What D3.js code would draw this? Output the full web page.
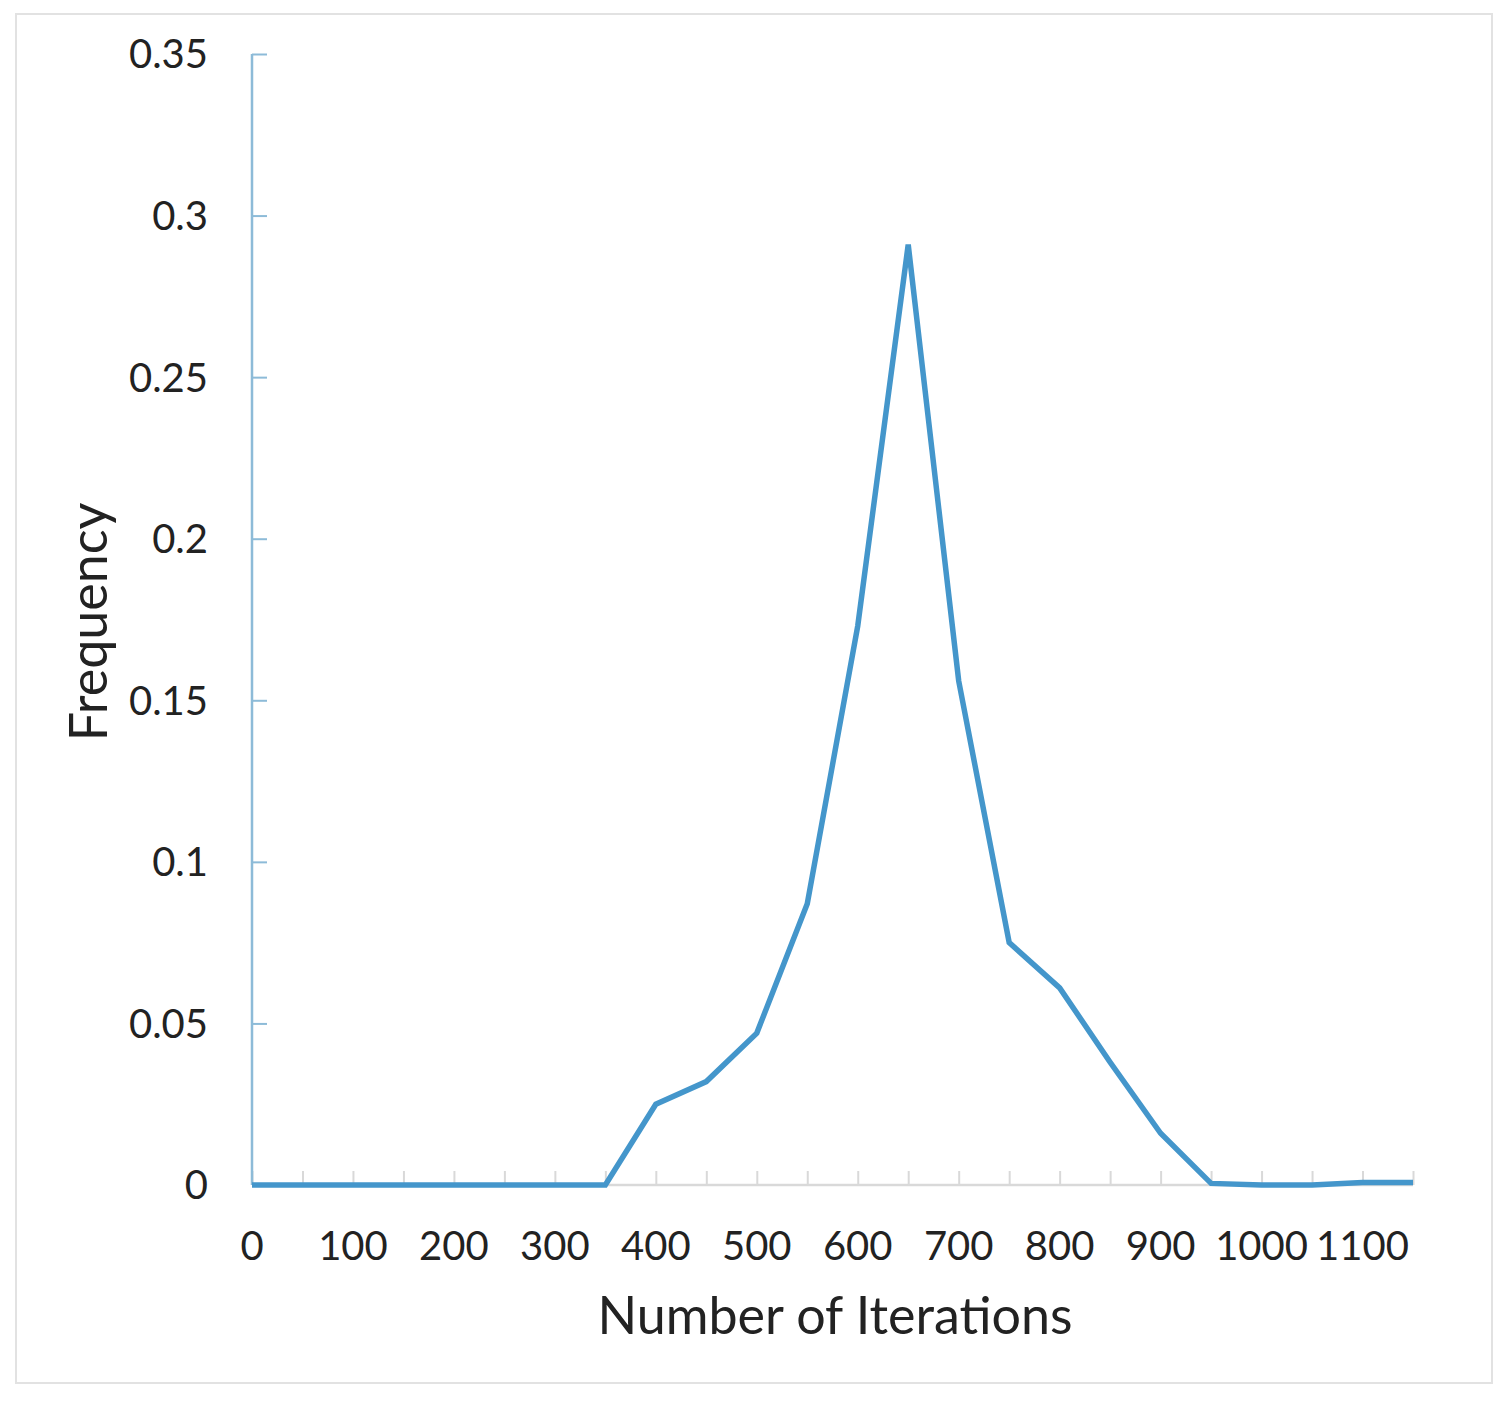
<!DOCTYPE html>
<html>
<head>
<meta charset="utf-8">
<script src="https://cdn.jsdelivr.net/npm/d3@7"></script>
<style>
  html, body { margin: 0; padding: 0; background: #fff; }
  svg text { font-family: Lato, "Open Sans", sans-serif; fill: #222; }
</style>
</head>
<body>
<svg id="chart" width="1510" height="1405"></svg>
<script>
// Data
const iterations = [0, 50, 100, 150, 200, 250, 300, 350, 400, 450, 500, 550, 600, 650, 700, 750, 800, 850, 900, 950, 1000, 1050, 1100, 1150];
const frequency  = [0, 0, 0, 0, 0, 0, 0, 0, 0.025, 0.032, 0.047, 0.087, 0.173, 0.291, 0.156, 0.075, 0.061, 0.038, 0.016, 0.0005, 0, 0, 0.0008, 0.0008];
const xTickLabels = [0, 100, 200, 300, 400, 500, 600, 700, 800, 900, 1000, 1100];
const xMinorTicks = [0, 50, 100, 150, 200, 250, 300, 350, 400, 450, 500, 550, 600, 650, 700, 750, 800, 850, 900, 950, 1000, 1050, 1100, 1150];
const yTickValues = [0, 0.05, 0.1, 0.15, 0.2, 0.25, 0.3, 0.35];
const xTitle = "Number of Iterations";
const yTitle = "Frequency";

const svg = d3.select("#chart");

// frame
svg.append("rect")
  .attr("x", 16).attr("y", 14).attr("width", 1476).attr("height", 1369)
  .attr("fill", "none").attr("stroke", "#e2e2e2").attr("stroke-width", 2);

const pL = 252, pR = 1413, pT = 54, pB = 1185;
const x = d3.scaleLinear().domain([0, 1150]).range([pL, pR]);
const y = d3.scaleLinear().domain([0, 0.35]).range([pB, pT]);

// X axis baseline + ticks (pointing up)
const xAxis = svg.append("g").attr("transform", `translate(0,${pB})`)
  .call(d3.axisTop(x).tickValues(xMinorTicks).tickSize(14).tickFormat(""));
xAxis.select(".domain").attr("stroke", "#d9d9d9").attr("stroke-width", 2.5)
  .attr("d", `M${pL},0H${pR}`);
xAxis.selectAll(".tick line").attr("stroke", "#d9d9d9").attr("stroke-width", 2);

// X tick labels
svg.append("g").selectAll("text").data(xTickLabels).join("text")
  .attr("x", d => x(d))
  .attr("y", 1260)
  .attr("text-anchor", "middle")
  .attr("font-size", 40)
  .text(d => d);

// Y axis line + ticks (pointing right)
const yAxis = svg.append("g").attr("transform", `translate(${pL},0)`)
  .call(d3.axisRight(y).tickValues(yTickValues.filter(v => v > 0)).tickSize(15).tickFormat(""));
yAxis.select(".domain").attr("stroke", "#8dbbd8").attr("stroke-width", 2.5)
  .attr("d", `M0,${pT}V${pB}`);
yAxis.selectAll(".tick line").attr("stroke", "#8dbbd8").attr("stroke-width", 2);

// Y tick labels
svg.append("g").selectAll("text").data(yTickValues).join("text")
  .attr("x", 208)
  .attr("y", d => y(d))
  .attr("dy", "0.36em")
  .attr("text-anchor", "end")
  .attr("font-size", 40)
  .text(d => d === 0 ? "0" : String(d));

// line
const line = d3.line().x((d, i) => x(iterations[i])).y(d => y(d));
svg.append("path")
  .datum(frequency)
  .attr("fill", "none")
  .attr("stroke", "#4496cb")
  .attr("stroke-width", 5.5)
  .attr("stroke-linejoin", "miter")
  .attr("d", line);

// titles
svg.append("text")
  .attr("x", 835).attr("y", 1334)
  .attr("text-anchor", "middle")
  .attr("font-size", 52)
  .text(xTitle);

svg.append("text")
  .attr("transform", "translate(107,622) rotate(-90)")
  .attr("text-anchor", "middle")
  .attr("font-size", 52)
  .text(yTitle);
</script>
</body>
</html>
